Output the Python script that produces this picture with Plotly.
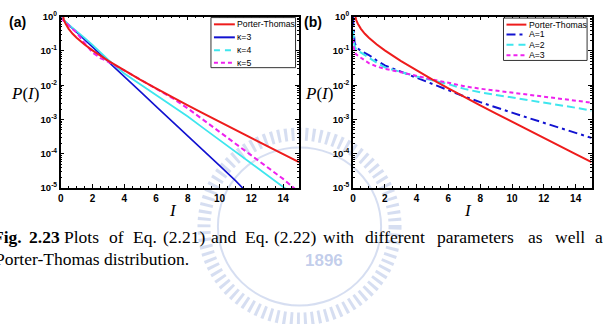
import plotly.graph_objects as go

W, H = 603, 324
def X(px): return px / W
def Y(py): return 1 - py / H

# ---------------- data ----------------
# Panel (a)
pt_I = [0.05, 0.1, 0.2, 0.3, 0.5, 0.75, 1, 1.5, 2, 3, 4, 5, 6, 7, 8, 9, 10, 11, 12, 13, 14, 15]
pt_P = [1.74, 1.20, 0.81, 0.63, 0.44, 0.316, 0.242, 0.154, 0.104, 0.0514, 0.027, 0.0146,
        0.0081, 0.0045, 0.00258, 0.00148, 8.5e-4, 4.9e-4, 2.85e-4, 1.66e-4, 9.7e-5, 5.7e-5]

k3_I = [0, 0.5, 1, 1.5, 2, 3, 4, 5, 6, 7, 8, 9, 10, 11, 11.6]
k3_P = [0.95, 0.58, 0.36, 0.22, 0.133, 0.049, 0.018, 0.0066, 0.0024, 9.0e-4, 3.3e-4,
        1.22e-4, 4.5e-5, 1.65e-5, 8.5e-6]

k4_I = [0, 0.5, 1, 1.5, 2, 3, 4, 5, 6, 7, 8, 9, 10, 11, 12, 13, 14, 14.3]
k4_P = [0.92, 0.60, 0.38, 0.24, 0.15, 0.055, 0.022, 0.0107, 0.0053, 0.0026, 0.00122,
        5.5e-4, 2.5e-4, 1.15e-4, 5.2e-5, 2.4e-5, 1.1e-5, 8.5e-6]

k5_I = [0, 0.5, 1, 1.5, 2, 2.5, 3, 4, 5, 6, 7, 8, 9, 10, 11, 12, 13, 14, 15]
k5_P = [0.90, 0.55, 0.34, 0.17, 0.09, 0.062, 0.048, 0.027, 0.0145, 0.0080, 0.0043,
        0.0021, 9.5e-4, 4.4e-4, 2.0e-4, 9.0e-5, 4.1e-5, 1.85e-5, 7.5e-6]

# Panel (b)
a_I = [0, 0.03, 0.1, 0.2, 0.5, 1, 1.5, 2, 3, 4, 5, 6, 7, 8, 9, 10, 11, 12, 13, 14, 15]
a1_P = [1.0, 0.40, 0.18, 0.13, 0.10, 0.076, 0.052, 0.038, 0.025, 0.0158, 0.0105, 0.0071,
        0.0047, 0.0032, 0.0022, 0.00158, 0.00112, 7.9e-4, 5.6e-4, 4.0e-4, 2.9e-4]
a2_P = [0.40, 0.22, 0.14, 0.11, 0.089, 0.063, 0.045, 0.033, 0.024, 0.018, 0.0138, 0.0107,
        0.0078, 0.0062, 0.0052, 0.0044, 0.0037, 0.0031, 0.0026, 0.0022, 0.0018]
a3_P = [0.22, 0.14, 0.10, 0.079, 0.063, 0.044, 0.035, 0.030, 0.024, 0.0186, 0.0145, 0.0118,
        0.0093, 0.0079, 0.0069, 0.0060, 0.0053, 0.0046, 0.0040, 0.0035, 0.0031]

legend_a = ["Porter-Thomas", "κ=3", "κ=4", "κ=5"]
legend_b = ["Porter-Thomas", "A=1", "A=2", "A=3"]

x_ticks = [0, 2, 4, 6, 8, 10, 12, 14]
y_tickvals = [1, 0.1, 0.01, 0.001, 1e-4, 1e-5]
y_ticktext = ["10<sup>0</sup>", "10<sup>-1</sup>", "10<sup>-2</sup>", "10<sup>-3</sup>",
              "10<sup>-4</sup>", "10<sup>-5</sup>"]

RED = "#ee1c1c"
BLUE = "#1212d0"
CYAN = "#3ee6ee"
MAG = "#ee22ee"

fig = go.Figure()

def add(xs, ys, color, width, dash, xa, ya):
    fig.add_trace(go.Scatter(x=xs, y=ys, mode="lines", xaxis=xa, yaxis=ya,
                             line=dict(color=color, width=width, dash=dash),
                             showlegend=False, hoverinfo="skip"))

# panel a
add(k3_I, k3_P, BLUE, 1.6, "solid", "x", "y")
add(k4_I, k4_P, CYAN, 1.8, "solid", "x", "y")
add(k5_I, k5_P, MAG, 2, "5px,3px", "x", "y")
add(pt_I, pt_P, RED, 2, "solid", "x", "y")
# panel b
add(a_I, a1_P, BLUE, 2, "9px,4px,3px,4px", "x2", "y2")
add(a_I, a2_P, CYAN, 2, "8px,4px", "x2", "y2")
add(a_I, a3_P, MAG, 2, "4px,3px", "x2", "y2")
add(pt_I, pt_P, RED, 2, "solid", "x2", "y2")

minor_y = [m * 10.0 ** e for e in range(-5, 0) for m in range(2, 10)]
tickfont = dict(family="Liberation Sans", size=10, color="black", weight="bold")

def xaxis(dom, anchor):
    return dict(domain=dom, anchor=anchor, range=[0, 15], tickvals=x_ticks,
                ticks="inside", ticklen=4, tickwidth=1, tickcolor="black",
                showline=True, linecolor="black", linewidth=1.5, mirror="allticks",
                showgrid=False, zeroline=False, tickfont=tickfont,
                minor=dict(ticks="inside", ticklen=2, dtick=0.5, tickcolor="black",
                           showgrid=False))

def yaxis(anchor):
    return dict(domain=[Y(188), Y(10)], anchor=anchor, type="log", range=[-5, 0],
                tickvals=y_tickvals, ticktext=y_ticktext,
                ticks="inside", ticklen=4, tickwidth=1, tickcolor="black",
                showline=True, linecolor="black", linewidth=1.5, mirror="allticks",
                showgrid=False, zeroline=False, tickfont=dict(tickfont, size=9.5),
                minor=dict(ticks="inside", ticklen=2, tickvals=minor_y,
                           tickcolor="black", showgrid=False))

shapes = []
annotations = []

# watermark (light logo ring)
wm = "rgba(120,145,210,0.30)"
cx, cy, r = 298, 228, 96
shapes.append(dict(type="circle", xref="paper", yref="paper", layer="below",
                   x0=X(cx - r), x1=X(cx + r), y0=Y(cy + r), y1=Y(cy - r),
                   line=dict(color=wm, width=13, dash="3px,4px")))
shapes.append(dict(type="circle", xref="paper", yref="paper", layer="below",
                   x0=X(cx - r + 14), x1=X(cx + r - 14), y0=Y(cy + r - 14), y1=Y(cy - r + 14),
                   line=dict(color=wm, width=2)))
annotations.append(dict(x=X(323), y=Y(263), xref="paper", yref="paper", text="<b>1896</b>",
                        showarrow=False, xanchor="center", yanchor="middle",
                        font=dict(family="Liberation Sans", size=17,
                                  color="rgba(120,145,210,0.45)")))

# manual legends
def legend(box, rows, line_x, text_x, labels, styles):
    x0, x1, y0, y1 = box
    shapes.append(dict(type="rect", xref="paper", yref="paper",
                       x0=X(x0), x1=X(x1), y0=Y(y1), y1=Y(y0),
                       line=dict(color="#333333", width=1), fillcolor="white"))
    for ry, lab, (col, dash, wdt) in zip(rows, labels, styles):
        shapes.append(dict(type="line", xref="paper", yref="paper",
                           x0=X(line_x[0]), x1=X(line_x[1]), y0=Y(ry), y1=Y(ry),
                           line=dict(color=col, width=wdt, dash=dash)))
        annotations.append(dict(x=X(text_x), y=Y(ry), xref="paper", yref="paper",
                                text=lab, showarrow=False, xanchor="left", yanchor="middle",
                                borderpad=0,
                                font=dict(family="Liberation Sans", size=8.7, color="black")))

legend((209, 294, 11, 63), [18, 31.5, 45, 58], (212, 233), 234.5, legend_a,
       [(RED, "solid", 2), (BLUE, "solid", 2), (CYAN, "6px,5px", 2), (MAG, "4px,3px", 2)])
legend((503, 587, 11.5, 55.5), [18.3, 28.5, 39.3, 50], (506, 526), 527.5, legend_b,
       [(RED, "solid", 2), (BLUE, "9px,4px,3px,4px", 2), (CYAN, "7px,5px", 2), (MAG, "4px,3px", 2)])

# panel labels, axis titles
for txt, px in [("(a)", 5), ("(b)", 302)]:
    annotations.append(dict(x=X(px), y=Y(15.5), xref="paper", yref="paper", text=f"<b>{txt}</b>",
                            showarrow=False, xanchor="left", yanchor="middle", borderpad=0,
                            font=dict(family="Liberation Sans", size=14, color="black")))
serif = "Liberation Serif"
for px in (7, 303):
    annotations.append(dict(x=X(px), y=Y(90), xref="paper", yref="paper",
                            text="<i>P</i>(<i>I</i>)", showarrow=False, xanchor="left",
                            yanchor="middle", borderpad=0,
                            font=dict(family=serif, size=17, color="black")))
for px in (171, 467):
    annotations.append(dict(x=X(px), y=Y(211), xref="paper", yref="paper",
                            text="<i>I</i>", showarrow=False, xanchor="center",
                            yanchor="middle", borderpad=0,
                            font=dict(family=serif, size=17, color="black")))

# caption (justified line rendered word by word)
cap_words = [("<b>Fig.</b>", -11), ("<b>2.23</b>", 25), ("Plots", 60), ("of", 106), ("Eq.", 130),
             ("(2.21)", 160), ("and", 208), ("Eq.", 242), ("(2.22)", 271), ("with", 321),
             ("different", 363), ("parameters", 435), ("as", 527), ("well", 554), ("as", 594)]
for w, px in cap_words:
    annotations.append(dict(x=X(px), y=Y(238.5), xref="paper", yref="paper", text=w,
                            showarrow=False, xanchor="left", yanchor="middle", borderpad=0,
                            font=dict(family=serif, size=17.5, color="black")))
annotations.append(dict(x=X(-9), y=Y(262), xref="paper", yref="paper",
                        text="Porter-Thomas distribution.", showarrow=False, xanchor="left",
                        yanchor="middle", borderpad=0,
                        font=dict(family=serif, size=17.5, color="black")))

fig.update_layout(
    width=W, height=H, margin=dict(l=0, r=0, t=0, b=0),
    paper_bgcolor="white", plot_bgcolor="rgba(0,0,0,0)",
    xaxis=xaxis([X(58), X(297.5)], "y"),
    yaxis=yaxis("x"),
    xaxis2=xaxis([X(351.7), X(591.5)], "y2"),
    yaxis2=yaxis("x2"),
    shapes=shapes, annotations=annotations, showlegend=False,
)

fig.write_html("out.html")
